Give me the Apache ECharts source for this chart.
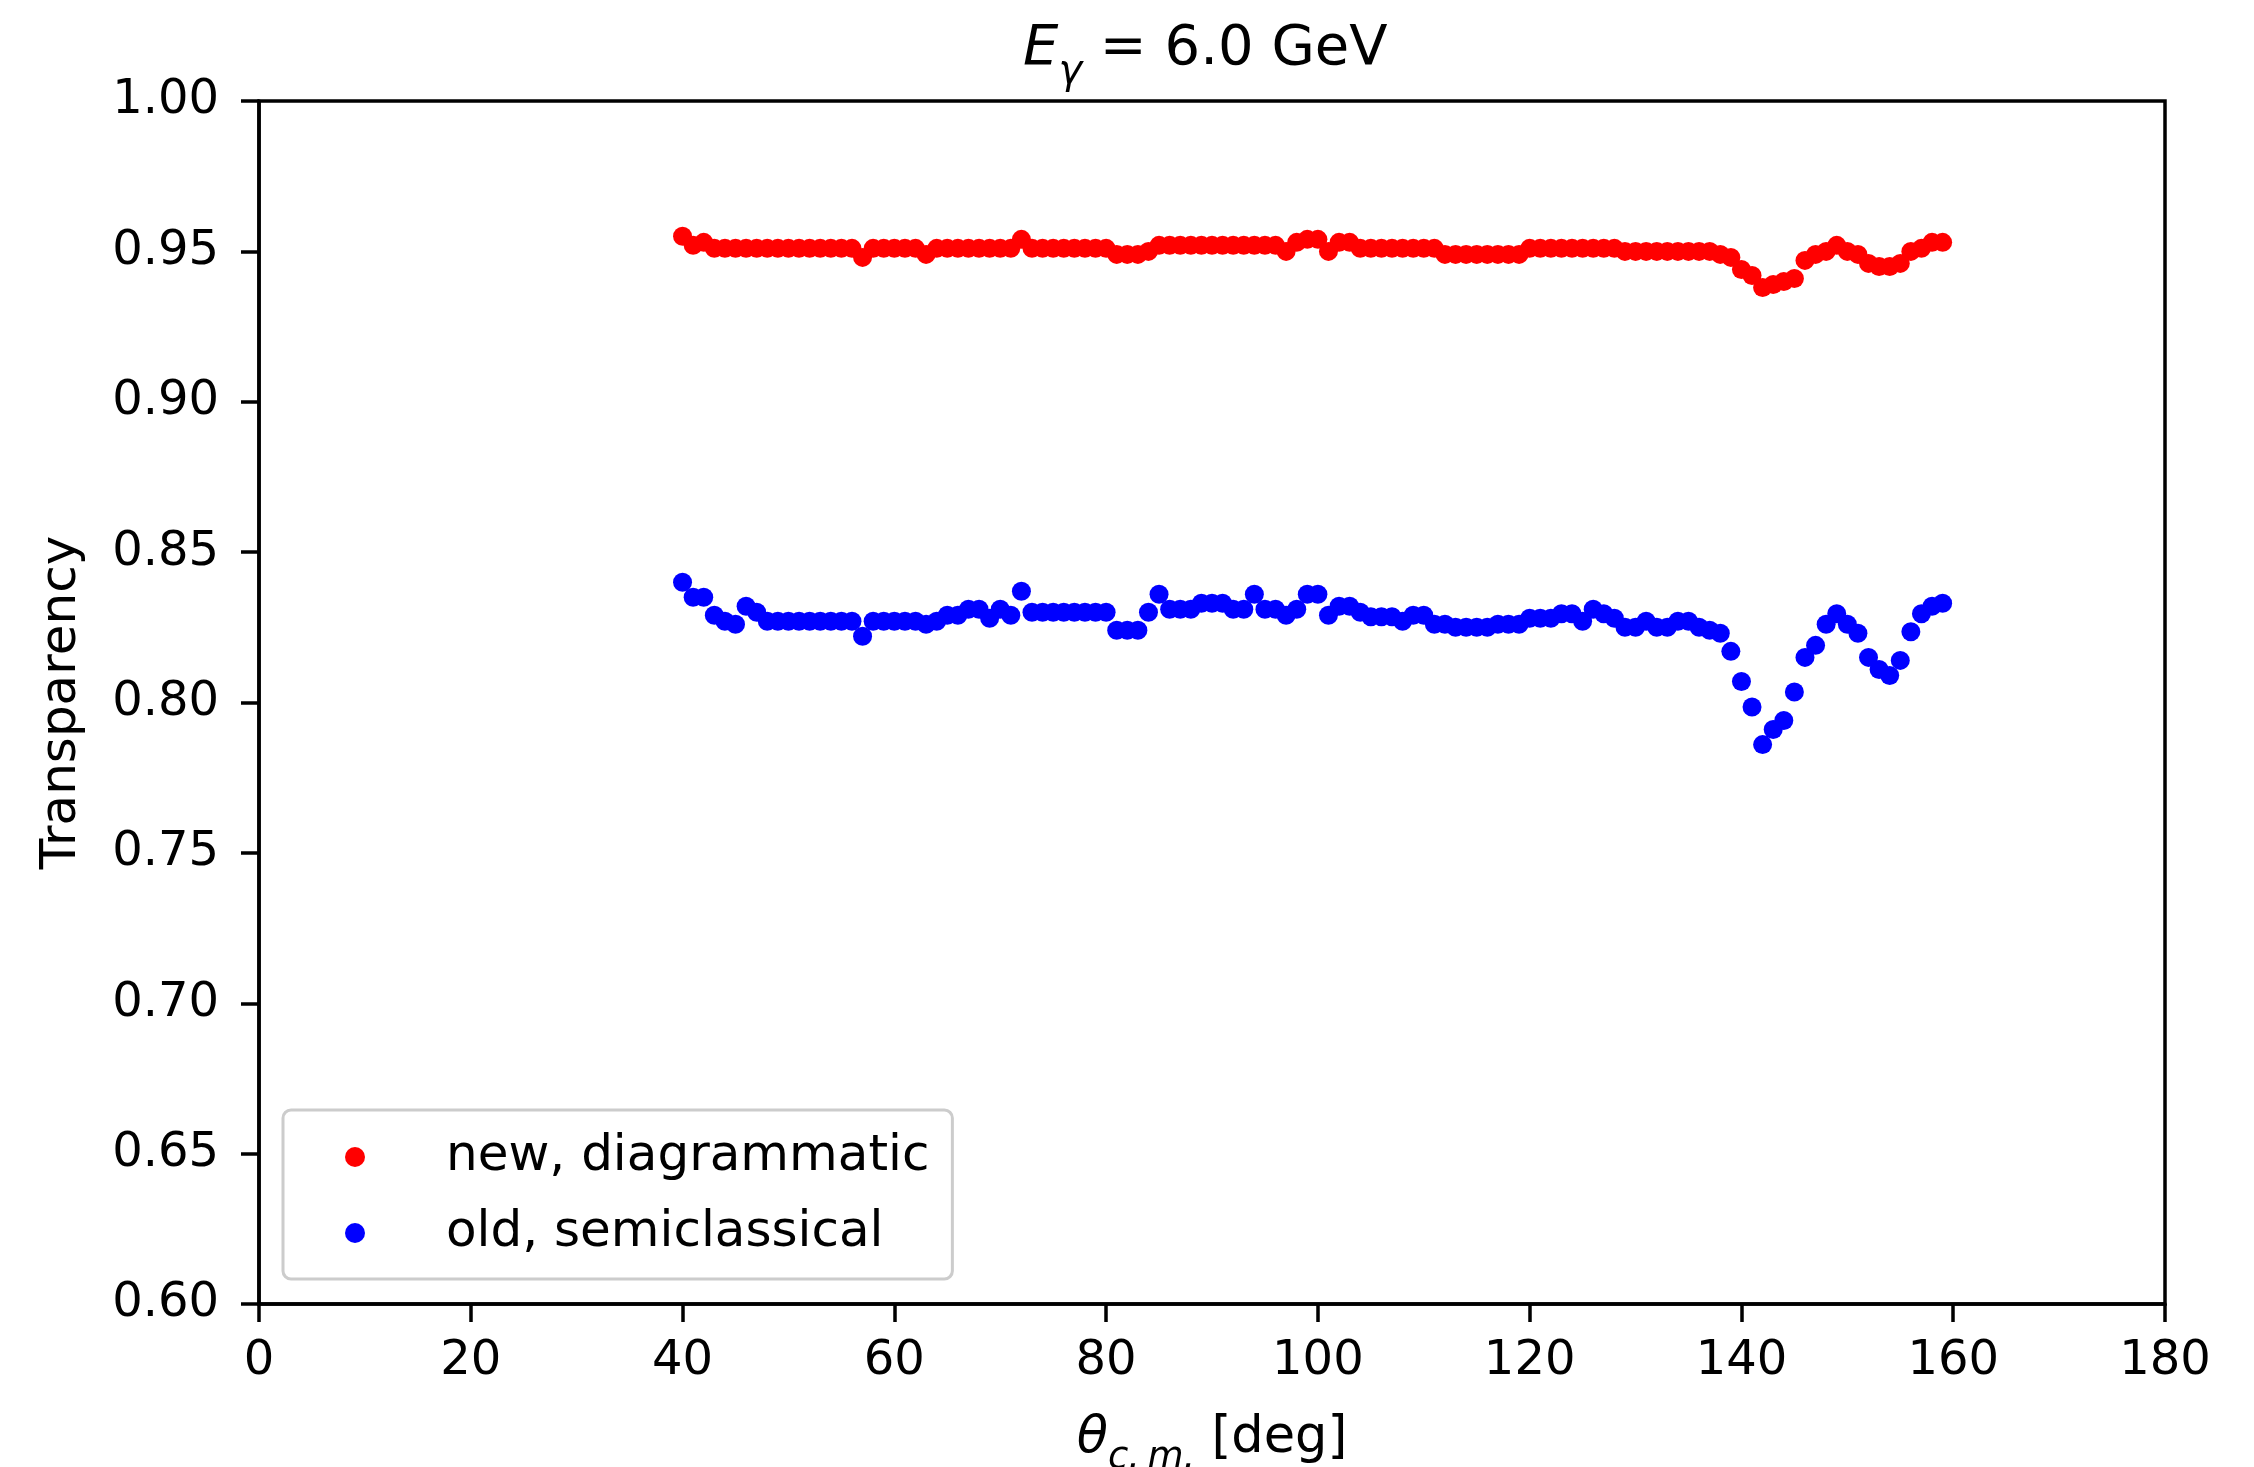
<!DOCTYPE html>
<html>
<head>
<meta charset="utf-8">
<title>Transparency vs angle</title>
<script src="https://cdn.jsdelivr.net/npm/echarts@6/dist/echarts.min.js"></script>
<style>
  html, body { margin: 0; padding: 0; background: #fff; }
  #chart { width: 2254px; height: 1467px; }
</style>
</head>
<body>
<div id="chart"></div>
<script>
// Scattering angle in the c.m. frame [deg]
const angles = [
  40, 41, 42, 43, 44, 45, 46, 47, 48, 49,
  50, 51, 52, 53, 54, 55, 56, 57, 58, 59,
  60, 61, 62, 63, 64, 65, 66, 67, 68, 69,
  70, 71, 72, 73, 74, 75, 76, 77, 78, 79,
  80, 81, 82, 83, 84, 85, 86, 87, 88, 89,
  90, 91, 92, 93, 94, 95, 96, 97, 98, 99,
  100, 101, 102, 103, 104, 105, 106, 107, 108, 109,
  110, 111, 112, 113, 114, 115, 116, 117, 118, 119,
  120, 121, 122, 123, 124, 125, 126, 127, 128, 129,
  130, 131, 132, 133, 134, 135, 136, 137, 138, 139,
  140, 141, 142, 143, 144, 145, 146, 147, 148, 149,
  150, 151, 152, 153, 154, 155, 156, 157, 158, 159
];

// Transparency, new diagrammatic calculation
const newDiagrammatic = [
  0.955, 0.952, 0.953, 0.951, 0.951, 0.951, 0.951, 0.951, 0.951, 0.951,
  0.951, 0.951, 0.951, 0.951, 0.951, 0.951, 0.951, 0.948, 0.951, 0.951,
  0.951, 0.951, 0.951, 0.949, 0.951, 0.951, 0.951, 0.951, 0.951, 0.951,
  0.951, 0.951, 0.954, 0.951, 0.951, 0.951, 0.951, 0.951, 0.951, 0.951,
  0.951, 0.949, 0.949, 0.949, 0.950, 0.952, 0.952, 0.952, 0.952, 0.952,
  0.952, 0.952, 0.952, 0.952, 0.952, 0.952, 0.952, 0.950, 0.953, 0.954,
  0.954, 0.950, 0.953, 0.953, 0.951, 0.951, 0.951, 0.951, 0.951, 0.951,
  0.951, 0.951, 0.949, 0.949, 0.949, 0.949, 0.949, 0.949, 0.949, 0.949,
  0.951, 0.951, 0.951, 0.951, 0.951, 0.951, 0.951, 0.951, 0.951, 0.950,
  0.950, 0.950, 0.950, 0.950, 0.950, 0.950, 0.950, 0.950, 0.949, 0.948,
  0.944, 0.942, 0.938, 0.939, 0.940, 0.941, 0.947, 0.949, 0.950, 0.952,
  0.950, 0.949, 0.946, 0.945, 0.945, 0.946, 0.950, 0.951, 0.953, 0.953
];

// Transparency, old semiclassical calculation
const oldSemiclassical = [
  0.840, 0.835, 0.835, 0.829, 0.827, 0.826, 0.832, 0.830, 0.827, 0.827,
  0.827, 0.827, 0.827, 0.827, 0.827, 0.827, 0.827, 0.822, 0.827, 0.827,
  0.827, 0.827, 0.827, 0.826, 0.827, 0.829, 0.829, 0.831, 0.831, 0.828,
  0.831, 0.829, 0.837, 0.830, 0.830, 0.830, 0.830, 0.830, 0.830, 0.830,
  0.830, 0.824, 0.824, 0.824, 0.830, 0.836, 0.831, 0.831, 0.831, 0.833,
  0.833, 0.833, 0.831, 0.831, 0.836, 0.831, 0.831, 0.829, 0.831, 0.836,
  0.836, 0.829, 0.832, 0.832, 0.830, 0.8285, 0.8285, 0.8285, 0.827, 0.829,
  0.829, 0.826, 0.826, 0.825, 0.825, 0.825, 0.825, 0.826, 0.826, 0.826,
  0.828, 0.828, 0.828, 0.8295, 0.8295, 0.827, 0.831, 0.8295, 0.828, 0.825,
  0.825, 0.827, 0.825, 0.825, 0.827, 0.827, 0.825, 0.824, 0.823, 0.817,
  0.807, 0.7985, 0.786, 0.791, 0.794, 0.8035, 0.815, 0.819, 0.826, 0.8295,
  0.826, 0.823, 0.815, 0.811, 0.809, 0.814, 0.8235, 0.8295, 0.832, 0.833
];

const seriesNames = ['new, diagrammatic', 'old, semiclassical'];
const xTicks = [0, 20, 40, 60, 80, 100, 120, 140, 160, 180];
const yTicks = [0.60, 0.65, 0.70, 0.75, 0.80, 0.85, 0.90, 0.95, 1.00];

const FONT = '"DejaVu Sans", "Liberation Sans", sans-serif';
const pairs = (xs, ys) => xs.map((x, i) => [x, ys[i]]);

const chart = echarts.init(document.getElementById('chart'), null, { renderer: 'canvas' });

chart.setOption({
  backgroundColor: '#ffffff',
  animation: false,
  title: {
    text: '{e|E}{g|γ}{t| = 6.0 GeV}',
    left: 1018,
    top: 16,
    textStyle: {
      fontWeight: 'normal',
      rich: {
        e: { fontFamily: FONT, fontSize: 56, fontStyle: 'italic', fontWeight: 'normal', color: '#000', lineHeight: 72, verticalAlign: 'top' },
        g: { fontFamily: FONT, fontSize: 40, fontStyle: 'italic', fontWeight: 'normal', color: '#000', lineHeight: 40, verticalAlign: 'bottom' },
        t: { fontFamily: FONT, fontSize: 56, fontWeight: 'normal', color: '#000', lineHeight: 72, verticalAlign: 'top' }
      }
    }
  },
  grid: {
    left: 259, top: 101, width: 1906, height: 1203,
    containLabel: false,
    outerBoundsMode: 'none',
    show: true, borderColor: '#000', borderWidth: 3.5, backgroundColor: 'transparent'
  },
  legend: {
    orient: 'vertical',
    left: 283, top: 1110,
    itemWidth: 20, itemHeight: 20, itemGap: 26,
    padding: [22, 23, 21, 62],
    backgroundColor: 'rgba(255,255,255,0.8)',
    borderColor: '#cccccc', borderWidth: 3, borderRadius: 8,
    textStyle: { fontFamily: FONT, fontSize: 50, color: '#000', lineHeight: 50, padding: [0, 0, 0, 76] },
    data: seriesNames.map(n => ({ name: n, icon: 'circle' }))
  },
  xAxis: {
    type: 'value',
    min: xTicks[0], max: xTicks[xTicks.length - 1], interval: xTicks[1] - xTicks[0],
    name: '{th|θ}{sub|c.\u2009m.}{n| [deg]}',
    nameLocation: 'middle',
    nameGap: 109,
    nameTextStyle: {
      rich: {
        th: { fontFamily: FONT, fontSize: 51, fontStyle: 'italic', color: '#000', lineHeight: 64, verticalAlign: 'top' },
        sub: { fontFamily: FONT, fontSize: 37, fontStyle: 'italic', color: '#000', lineHeight: 37, verticalAlign: 'bottom' },
        n: { fontFamily: FONT, fontSize: 51, color: '#000', lineHeight: 64, verticalAlign: 'top' }
      }
    },
    axisLine: { show: true, onZero: false, lineStyle: { color: '#000', width: 3.5 } },
    axisTick: { show: true, inside: false, length: 18, lineStyle: { color: '#000', width: 3.5 } },
    axisLabel: { fontFamily: FONT, fontSize: 48, color: '#000', margin: 34 },
    splitLine: { show: false }
  },
  yAxis: {
    type: 'value',
    min: yTicks[0], max: yTicks[yTicks.length - 1], interval: 0.05,
    name: 'Transparency',
    nameLocation: 'middle',
    nameGap: 172,
    nameTextStyle: { fontFamily: FONT, fontSize: 50, color: '#000' },
    axisLine: { show: true, onZero: false, lineStyle: { color: '#000', width: 3.5 } },
    axisTick: { show: true, inside: false, length: 18, lineStyle: { color: '#000', width: 3.5 } },
    axisLabel: { fontFamily: FONT, fontSize: 48, color: '#000', margin: 40, formatter: v => v.toFixed(2) },
    splitLine: { show: false }
  },
  series: [
    {
      name: seriesNames[0],
      type: 'scatter',
      symbol: 'circle',
      symbolSize: 19,
      itemStyle: { color: '#ff0000', opacity: 1 },
      data: pairs(angles, newDiagrammatic)
    },
    {
      name: seriesNames[1],
      type: 'scatter',
      symbol: 'circle',
      symbolSize: 19,
      itemStyle: { color: '#0000ff', opacity: 1 },
      data: pairs(angles, oldSemiclassical)
    }
  ]
});
</script>
</body>
</html>
